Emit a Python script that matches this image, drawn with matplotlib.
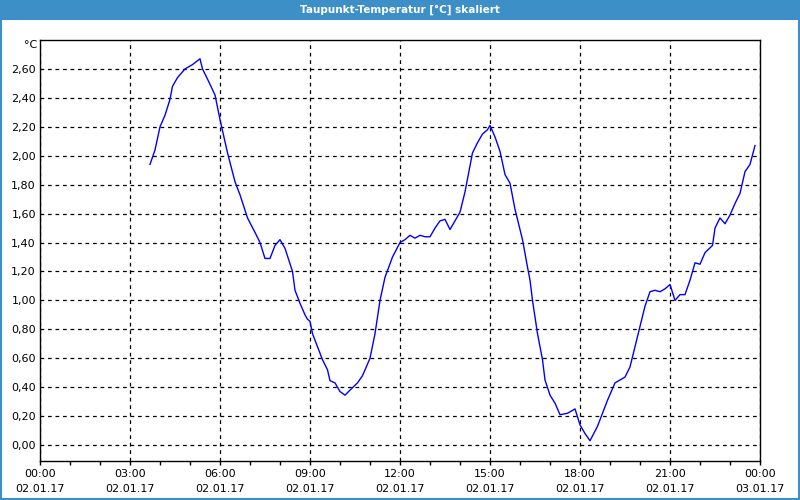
import matplotlib
matplotlib.use('Agg')
from matplotlib import pyplot as plt
import matplotlib.dates as mdates
from matplotlib.ticker import FuncFormatter
from matplotlib.patches import Rectangle
import pandas as pd

day = '2017-01-02'
times = ['03:40', '03:50', '04:00', '04:10', '04:20', '04:25', '04:35', '04:50',
         '05:05', '05:20', '05:25', '05:35', '05:50', '06:00', '06:15', '06:30',
         '06:40', '06:55', '07:10', '07:20', '07:30', '07:40', '07:50', '08:00',
         '08:10', '08:25', '08:30', '08:40', '08:50', '08:55', '09:00', '09:05',
         '09:15', '09:25', '09:35', '09:40', '09:50', '10:00', '10:10', '10:20',
         '10:35', '10:45', '11:00', '11:10', '11:20', '11:30', '11:45', '12:00',
         '12:10', '12:20', '12:30', '12:40', '12:50', '13:00', '13:10', '13:20',
         '13:30', '13:40', '13:50', '14:00', '14:10', '14:20', '14:25', '14:35',
         '14:45', '14:55', '15:00', '15:10', '15:20', '15:30', '15:40', '15:50',
         '16:05', '16:15', '16:20', '16:25', '16:35', '16:45', '16:50', '17:00',
         '17:10', '17:20', '17:35', '17:50', '18:00', '18:10', '18:20', '18:35',
         '18:45', '18:55', '19:10', '19:20', '19:30', '19:40', '19:50', '20:00',
         '20:10', '20:20', '20:30', '20:40', '20:50', '21:00', '21:10', '21:20',
         '21:30', '21:40', '21:50', '22:00', '22:10', '22:25', '22:30', '22:40',
         '22:50', '23:00', '23:10', '23:20', '23:30', '23:40', '23:50']
taupunkt = [1.94, 2.04, 2.20, 2.28, 2.39, 2.48, 2.54, 2.60,
            2.63, 2.67, 2.60, 2.53, 2.42, 2.25, 2.02, 1.82,
            1.73, 1.57, 1.47, 1.40, 1.29, 1.29, 1.38, 1.42,
            1.36, 1.20, 1.07, 0.98, 0.90, 0.87, 0.855, 0.77,
            0.68, 0.59, 0.52, 0.445, 0.43, 0.37, 0.345, 0.38,
            0.43, 0.48, 0.60, 0.77, 1.00, 1.16, 1.30, 1.40,
            1.42, 1.45, 1.43, 1.45, 1.44, 1.44, 1.50, 1.55,
            1.56, 1.49, 1.55, 1.61, 1.75, 1.93, 2.02, 2.09,
            2.15, 2.18, 2.21, 2.13, 2.03, 1.87, 1.81, 1.63,
            1.42, 1.23, 1.14, 1.00, 0.77, 0.59, 0.45, 0.345,
            0.29, 0.21, 0.22, 0.25, 0.14, 0.08, 0.03, 0.13,
            0.22, 0.31, 0.43, 0.45, 0.47, 0.54, 0.68, 0.82,
            0.96, 1.06, 1.07, 1.06, 1.08, 1.11, 1.00, 1.04,
            1.04, 1.14, 1.26, 1.25, 1.33, 1.38, 1.50, 1.57,
            1.53, 1.59, 1.67, 1.74, 1.89, 1.94, 2.07]
y_ticks = [0.0, 0.2, 0.4, 0.6, 0.8, 1.0, 1.2, 1.4, 1.6, 1.8, 2.0, 2.2, 2.4, 2.6]

title = 'Taupunkt-Temperatur [°C] skaliert'
unit = '°C'
blue = '#3c8fc7'

x = pd.to_datetime([day + ' ' + t for t in times])

plt.rcParams['font.family'] = ['DejaVu Sans']
fig = plt.figure(figsize=(8, 5), dpi=100)
fig.patch.set_facecolor('white')

# title bar + frame
fig.patches.append(Rectangle((0, 480 / 500), 1, 20 / 500, transform=fig.transFigure,
                             facecolor=blue, edgecolor='none', zorder=0))
fig.patches.append(Rectangle((0.001, 0.002), 0.998, 0.996, transform=fig.transFigure,
                             facecolor='none', edgecolor=blue, linewidth=1.5, zorder=0))
fig.text(0.5, 490 / 500, title, color='white', fontsize=7.5, fontweight='bold',
         ha='center', va='center')

ax = fig.add_axes([40 / 800, 39 / 500, 720 / 800, 421 / 500])
ax.plot(x, taupunkt, color='#0000ff', linewidth=1)

ax.set_xlim(pd.Timestamp('2017-01-02 00:00'), pd.Timestamp('2017-01-03 00:00'))
ax.set_ylim(-0.11, 2.80)

ax.xaxis.set_major_locator(mdates.HourLocator(byhour=range(0, 24, 3)))
ax.xaxis.set_minor_locator(mdates.HourLocator())
ax.xaxis.set_major_formatter(mdates.DateFormatter('%H:%M\n%d.%m.%y'))
ax.set_yticks(y_ticks)
ax.yaxis.set_major_formatter(FuncFormatter(lambda v, p: ('%.2f' % v).replace('.', ',')))

ax.tick_params(axis='x', which='both', direction='out', length=3, width=1,
               labelsize=8, pad=3)
ax.tick_params(axis='y', length=0, labelsize=8, pad=3)
for lab in ax.get_xticklabels():
    lab.set_linespacing(1.6)

ax.grid(True, which='major', color='black', linestyle=(0, (3, 3)), linewidth=0.9)
for s in ax.spines.values():
    s.set_color('black')
    s.set_linewidth(1)

fig.text(37 / 800, 1 - 45 / 500, unit, fontsize=8, ha='right', va='center')

fig.savefig('out.png', dpi=100)
